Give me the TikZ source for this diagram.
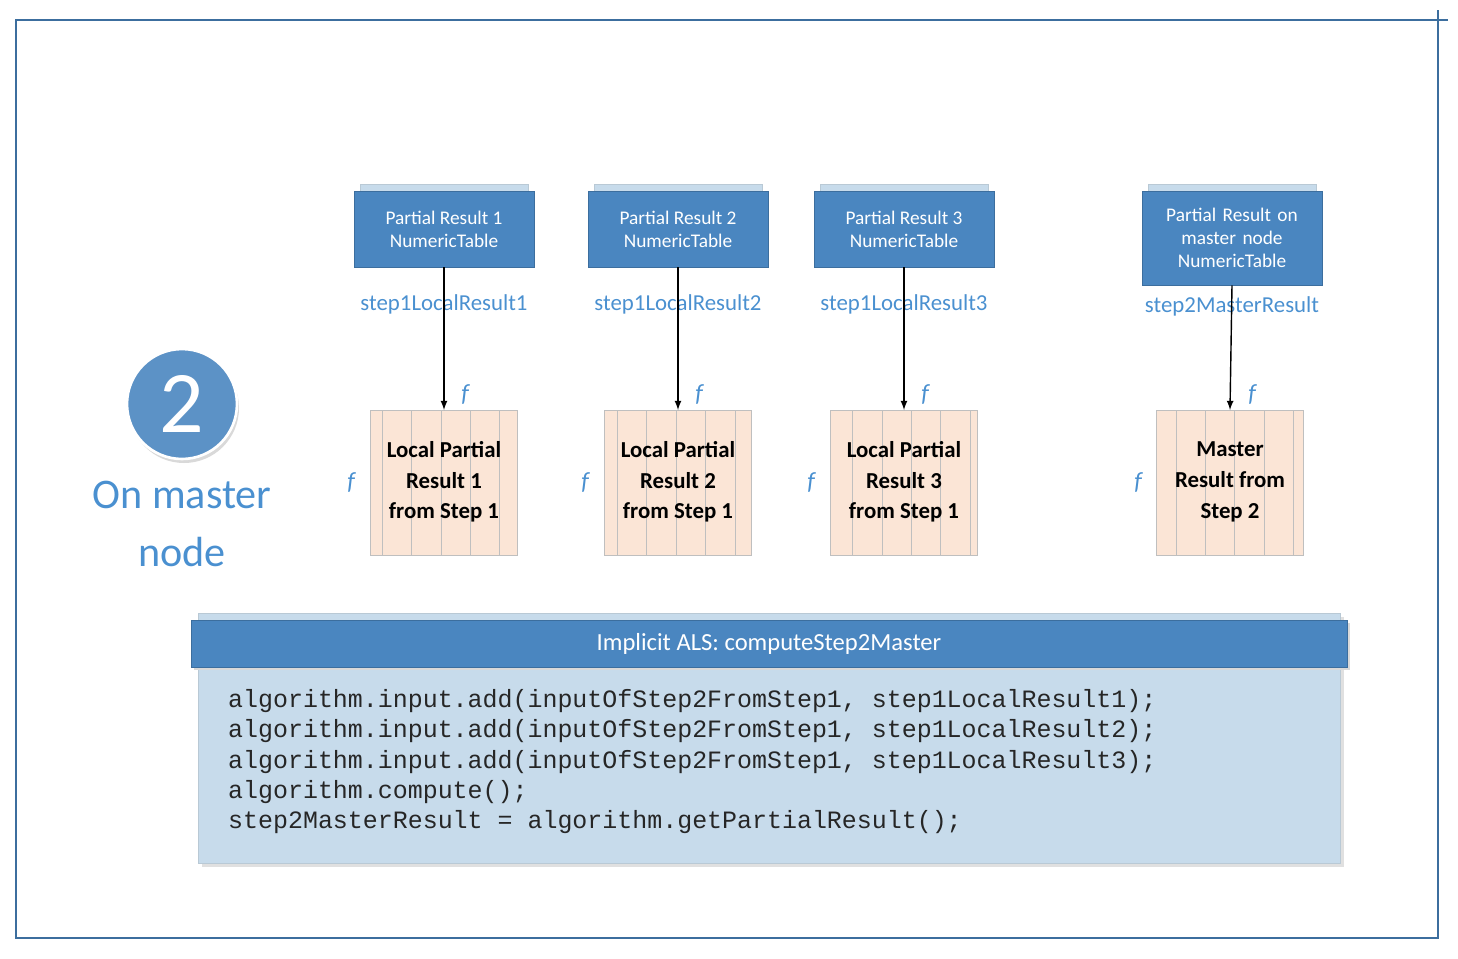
\documentclass[tikz,border=0pt]{standalone}
\usepackage{fontspec}
\setmainfont{Carlito}
\newfontfamily\codefont{Liberation Mono}
\usetikzlibrary{positioning}
\definecolor{hdrblue}{HTML}{4A86C0}
\definecolor{hdrline}{HTML}{3C6E9E}
\definecolor{backblue}{HTML}{C7DBEB}
\definecolor{cellfill}{HTML}{FBE5D6}
\definecolor{cellline}{HTML}{BFBFBF}
\definecolor{lblblue}{HTML}{4A90D0}
\tikzset{
  resbox/.style={draw=hdrline,fill=hdrblue,text=white,minimum width=3.6cm,align=center,font=\fontsize{11}{13}\selectfont,inner sep=0pt},
  resback/.style={draw=backblue!80!gray,fill=backblue},
  varlbl/.style={text=lblblue,font=\fontsize{13}{15}\selectfont},
  flbl/.style={text=lblblue,font=\fontsize{14}{16}\selectfont\itshape},
  gridtxt/.style={align=center,font=\fontsize{13}{17.5}\selectfont\bfseries},
  codeln/.style={anchor=west,font=\codefont\fontsize{14.2}{16}\selectfont,text=black!85}
}
\begin{document}
\begin{tikzpicture}[x=0.02cm,y=-0.02cm]
  \useasboundingbox (0,0) rectangle (1458,958);
  % frame
  \draw[hdrline,thick] (16,20) rectangle (1438,938);
  \draw[hdrline,thick] (1400,20) -- (1448,20);
  \draw[hdrline,thick] (1438,10) -- (1438,45);

  % marker
  \fill[black!15] (184,408) circle (55);
  \node[circle,fill=hdrblue!90!white,draw=white,line width=1.5pt,minimum size=2.2cm,text=white,font=\fontsize{50}{50}\selectfont] (step) at (182,404) {2};
  \node[text=lblblue,align=center,font=\fontsize{24}{33}\selectfont,below=0.3cm of step] (where) {On master\\node};

  % partial results and tables
  \foreach \cx/\i in {444/1,678/2,904/3}{
    \fill[resback] (\cx-84,184) rectangle (\cx+84,262);
    \node[resbox,minimum height=1.52cm] (pr\i) at (\cx,229) {Partial Result \i\\NumericTable};
    \node[varlbl] (var\i) at (\cx,304) {step1LocalResult\i};
    \fill[cellfill] (\cx-74,410) rectangle (\cx+73,555);
    \draw[cellline] (\cx-74,410) grid[xstep=29.4,ystep=29] (\cx+73,555);
    \draw[cellline] (\cx-74,410) rectangle (\cx+73,555);
    \node[gridtxt] (tbl\i) at (\cx,482) {Local Partial\\Result \i\\from Step 1};
    \coordinate (top\i) at (\cx,410);
    \node[flbl] (ft\i) at (\cx+21,394) {f};
    \node[flbl] (fl\i) at (\cx-93,482) {f};
    \draw[-latex,thick] (pr\i.south) -- (top\i);
  }
  \fill[resback] (1148,184) rectangle (1316,280);
  \node[resbox,minimum height=1.88cm,text width=3.4cm] (pr4) at (1232,238) {Partial Result on\\master node\\NumericTable};
  \node[varlbl] (var4) at (1232,306) {step2MasterResult};
  \fill[cellfill] (1156,410) rectangle (1303,555);
  \draw[cellline] (1156,410) grid[xstep=29.4,ystep=29] (1303,555);
  \draw[cellline] (1156,410) rectangle (1303,555);
  \node[gridtxt] (tbl4) at (1230,482) {Master\\Result from\\Step 2};
  \coordinate (top4) at (1230,410);
  \node[flbl] (ft4) at (1252,394) {f};
  \node[flbl] (fl4) at (1138,482) {f};
  \draw[-latex,thick] (pr4.south) -- (top4);

  % algorithm panel
  \fill[black!12] (202,617) rectangle (1344,867);
  \draw[resback] (198,613) rectangle (1340,863);
  \fill[black!15] (194,623) rectangle (1350,670);
  \node[draw=hdrline,fill=hdrblue,text=white,minimum width=23.12cm,minimum height=0.94cm,inner sep=0pt,font=\fontsize{14}{16}\selectfont] (algo) at (769,643.5) {Implicit ALS: computeStep2Master};
  \node[codeln] (c1) at (222,701) {algorithm.input.add(inputOfStep2FromStep1, step1LocalResult1);};
  \node[codeln] (c2) at (222,731) {algorithm.input.add(inputOfStep2FromStep1, step1LocalResult2);};
  \node[codeln] (c3) at (222,762) {algorithm.input.add(inputOfStep2FromStep1, step1LocalResult3);};
  \node[codeln] (c4) at (222,792) {algorithm.compute();};
  \node[codeln] (c5) at (222,822) {step2MasterResult = algorithm.getPartialResult();};
\end{tikzpicture}
\end{document}
